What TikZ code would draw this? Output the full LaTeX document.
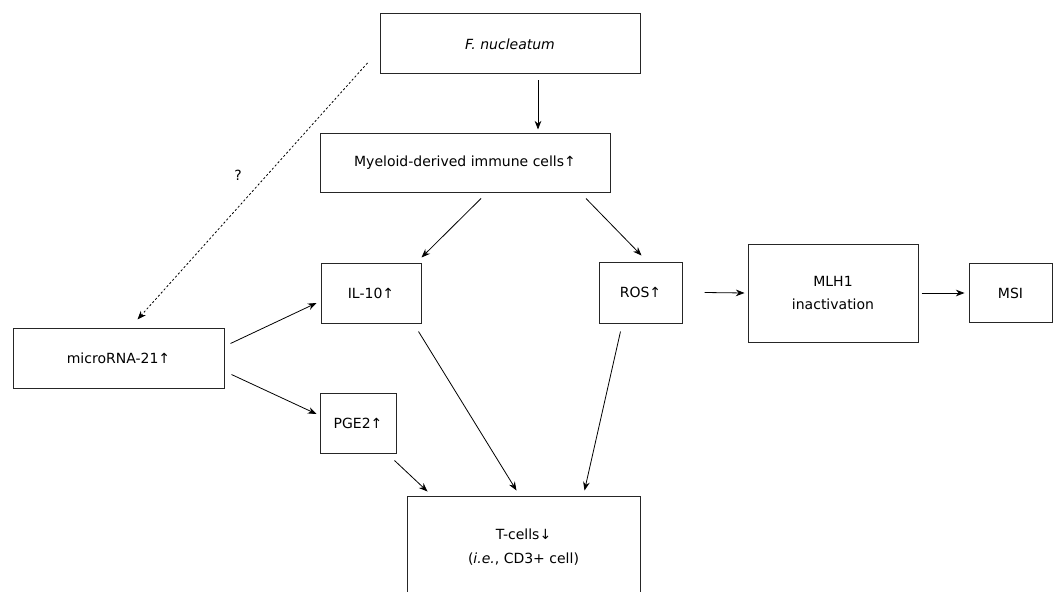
\documentclass[tikz,border=0pt]{standalone}
\usepackage{fontspec}
\setmainfont{DejaVu Sans}
\usetikzlibrary{arrows.meta}
\begin{document}
\begin{tikzpicture}[x=0.75pt,y=-0.75pt,
  box/.style={draw=black!85,line width=0.75pt,minimum width=#1,inner sep=0pt,align=center,font=\fontsize{10.5}{17.5}\selectfont},
  lbl/.style={inner sep=0pt,font=\fontsize{10.5}{13}\selectfont},
  arr/.style={line width=0.6pt,-{Stealth[length=6.5pt,width=5pt]}},
  dotarr/.style={line width=0.6pt,dash pattern=on 1.6pt off 1.6pt,-{Stealth[length=6.5pt,width=5pt]}}]
\useasboundingbox (0,0) rectangle (1060,592);
\node[box=195pt,minimum height=45pt] (fn) at (510,44) {\textit{F. nucleatum}};
\node[box=217.5pt,minimum height=44.25pt] (my) at (465,162.5) {Myeloid-derived immune cells↑};
\node[box=75pt,minimum height=45pt] (il) at (371,293) {IL-10↑};
\node[box=62.25pt,minimum height=45.75pt] (ros) at (640.5,292.5) {ROS↑};
\node[box=127.5pt,minimum height=73.5pt] (mlh) at (833,293) {MLH1\\inactivation};
\node[box=62.25pt,minimum height=44.25pt] (msi) at (1010.5,293) {MSI};
\node[box=158.25pt,minimum height=45pt] (mir) at (118.5,358) {microRNA-21↑};
\node[box=57pt,minimum height=45pt] (pge) at (358,423) {PGE2↑};
\node[box=174.75pt,minimum height=76.5pt] (tc) at (523.5,547) {T-cells↓\\(\textit{i.e.}, CD3+ cell)};
\node[lbl] (q) at (238,175) {?};
\draw[arr] ([shift={(28,6)}]fn.south) -- ([shift={(73,-3)}]my.north);
\draw[arr] ([shift={(16,6)}]my.south) -- ([shift={(0,-5)}]il.north east);
\draw[arr] ([shift={(121,6)}]my.south) -- ([shift={(1,-6)}]ros.north);
\draw[arr] ([shift={(22,0)}]ros.east) -- ([shift={(-3,0)}]mlh.west);
\draw[arr] ([shift={(3,0)}]mlh.east) -- ([shift={(-4,0)}]msi.west);
\draw[arr] ([shift={(6,16)}]mir.north east) -- ([shift={(-4,10)}]il.west);
\draw[arr] ([shift={(7,-14)}]mir.south east) -- ([shift={(-3,-9)}]pge.west);
\draw[arr] ([shift={(-2,7)}]pge.south east) -- ([shift={(21,-4)}]tc.north west);
\draw[arr] ([shift={(-3,8)}]il.south east) -- ([shift={(-7,-5)}]tc.north);
\draw[arr] ([shift={(-20,8)}]ros.south) -- ([shift={(61,-5)}]tc.north);
\draw[dotarr] ([shift={(-12,19)}]fn.west) -- ([shift={(19,-8)}]mir.north);
\end{tikzpicture}
\end{document}
